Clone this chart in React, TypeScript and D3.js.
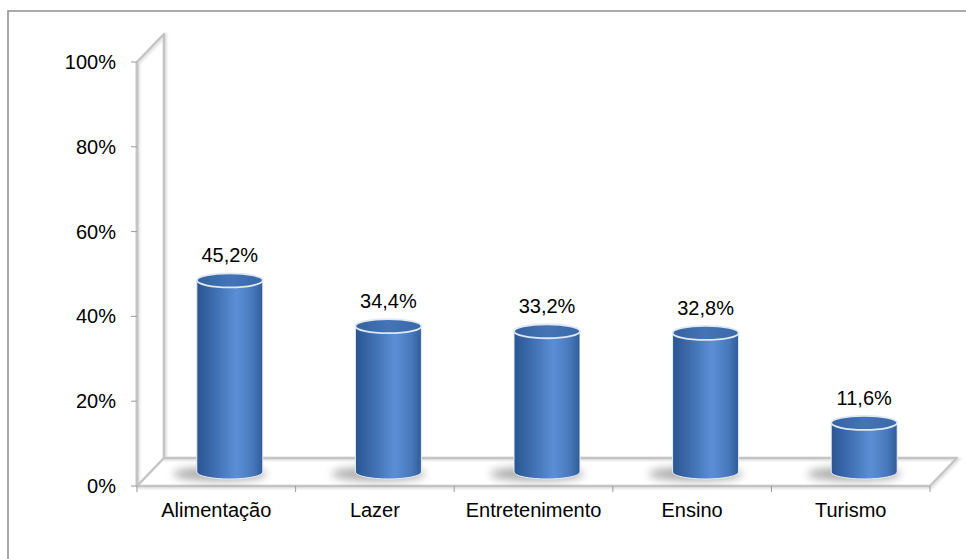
import React from "react";
import * as d3 from "d3";

const categories = ["Alimentação", "Lazer", "Entretenimento", "Ensino", "Turismo"];
const values = [45.2, 34.4, 33.2, 32.8, 11.6];
const valueLabels = ["45,2%", "34,4%", "33,2%", "32,8%", "11,6%"];
const yTicks = [0, 20, 40, 60, 80, 100];

const W = 966;
const H = 559;
const FONT = "'Liberation Sans', Arial, sans-serif";

export default function App() {
  const left = 137;
  const right = 930;
  const bottom = 486;
  const top = 62;
  const ddx = 27;
  const ddy = -28;

  const x = d3.scaleBand<string>().domain(categories).range([left, right]).padding(0);
  const y = d3.scaleLinear().domain([0, 100]).range([bottom, top]);
  const bw = x.bandwidth();
  const cylW = 66;
  const ry = 7;
  const axisColor = "#c4c4c4";
  const fs = 20;

  return (
    <svg
      width={W}
      height={H}
      style={{ position: "absolute", left: 0, top: 0, background: "#fff" }}
    >
      <defs>
        <linearGradient id="cyl" x1="0" x2="1" y1="0" y2="0">
          <stop offset="0" stopColor="#2a5590" />
          <stop offset="0.25" stopColor="#3d6cae" />
          <stop offset="0.6" stopColor="#5b8fd5" />
          <stop offset="0.85" stopColor="#4878bb" />
          <stop offset="1" stopColor="#2f5c98" />
        </linearGradient>
        <linearGradient id="capg" x1="0" x2="1" y1="0" y2="0">
          <stop offset="0" stopColor="#35629f" />
          <stop offset="0.5" stopColor="#4474b7" />
          <stop offset="1" stopColor="#3a68a8" />
        </linearGradient>
        <filter id="blur" x="-50%" y="-100%" width="200%" height="300%">
          <feGaussianBlur stdDeviation="4" />
        </filter>
        <filter id="lshadow" x="-10%" y="-10%" width="120%" height="120%">
          <feGaussianBlur stdDeviation="0.8" />
        </filter>
      </defs>

      {/* outer border */}
      <rect x={8} y={11} width={1000} height={600} fill="none" stroke="#8f8f8f" strokeWidth={1.5} />

      {/* axes frame: shadow */}
      <g stroke="#e2e2e2" strokeWidth={3} fill="none" filter="url(#lshadow)" transform="translate(1.5,1.5)">
        <path d={`M${left},${y(100)}L${left + ddx},${y(100) + ddy}L${left + ddx},${bottom + ddy}L${right + ddx},${bottom + ddy}L${right},${bottom}L${left},${bottom}Z`} />
        <line x1={left} x2={left} y1={y(100)} y2={bottom} />
      </g>
      <g stroke={axisColor} strokeWidth={2.5} fill="none" strokeLinejoin="round">
        <path d={`M${left},${y(100)}L${left + ddx},${y(100) + ddy}L${left + ddx},${bottom + ddy}L${right + ddx},${bottom + ddy}L${right},${bottom}L${left},${bottom}Z`} />
        <line x1={left} x2={left} y1={y(100)} y2={bottom} />
        <line x1={left} x2={left + ddx} y1={bottom} y2={bottom + ddy} />
      </g>

      {/* y ticks */}
      {yTicks.map((t) => (
        <g key={t}>
          <line x1={left - 6} x2={left} y1={y(t)} y2={y(t)} stroke="#9a9a9a" strokeWidth={1} />
          <text
            x={116}
            y={y(t)}
            dy="0.35em"
            textAnchor="end"
            fontFamily={FONT}
            fontSize={fs}
            fill="#000"
          >
            {t}%
          </text>
        </g>
      ))}

      {/* x ticks */}
      {categories.concat(["__end"]).map((c, i) => {
        const xx = left + i * bw;
        return <line key={c} x1={xx} x2={xx} y1={bottom} y2={bottom + 6} stroke="#9a9a9a" strokeWidth={1} />;
      })}

      {/* category labels */}
      {categories.map((c) => (
        <text
          key={c}
          x={(x(c) as number) + bw / 2}
          y={510}
          dy="0.35em"
          textAnchor="middle"
          fontFamily={FONT}
          fontSize={fs}
          fill="#000"
        >
          {c}
        </text>
      ))}

      {/* cylinders */}
      {categories.map((c, i) => {
        const cx = (x(c) as number) + bw / 2 + ddx / 2;
        const base = y(0) + ddy / 2;
        const topY = y(values[i]) + ddy / 2;
        const x0 = cx - cylW / 2;
        const x1 = cx + cylW / 2;
        const body = `M${x0},${topY}L${x0},${base}A${cylW / 2},${ry} 0 0 0 ${x1},${base}L${x1},${topY}Z`;
        return (
          <g key={c}>
            <ellipse cx={cx - 10} cy={base + 2} rx={cylW / 2 + 14} ry={7} fill="#000" opacity={0.32} filter="url(#blur)" />
            <path d={body} fill="url(#cyl)" stroke="#e8eef7" strokeWidth={1} />
            <ellipse cx={cx} cy={topY} rx={cylW / 2} ry={ry} fill="url(#capg)" stroke="#dfe8f4" strokeWidth={1.8} />
            <text
              x={cx}
              y={topY - 25}
              dy="0.35em"
              textAnchor="middle"
              fontFamily={FONT}
              fontSize={fs}
              fill="#000"
            >
              {valueLabels[i]}
            </text>
          </g>
        );
      })}
    </svg>
  );
}
